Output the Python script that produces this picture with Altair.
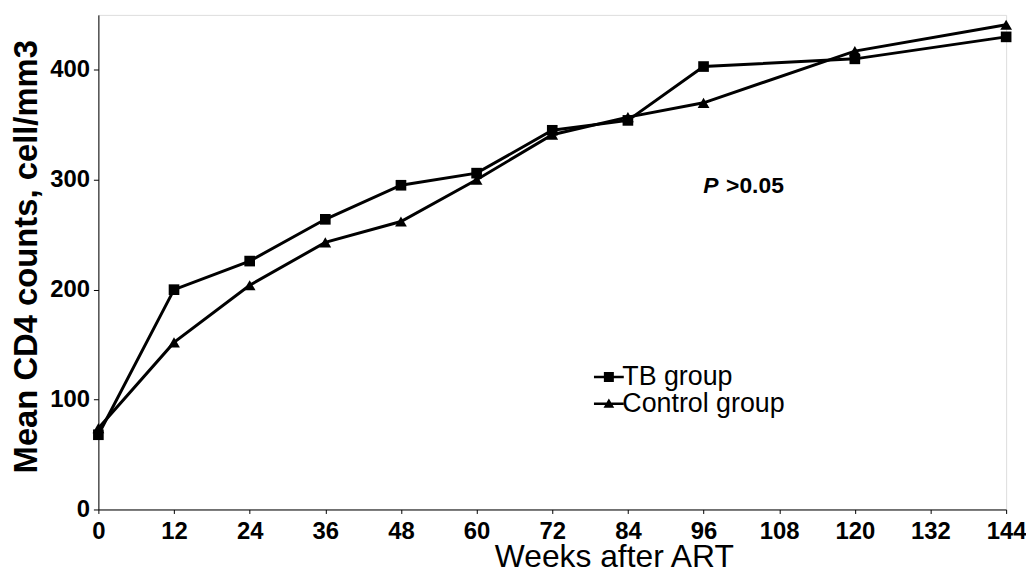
import altair as alt
import pandas as pd

weeks = [0, 12, 24, 36, 48, 60, 72, 84, 96, 120, 144]
tb_values = [68, 200, 226, 264, 295, 306, 345, 354, 403, 410, 430]
control_values = [74, 152, 204, 243, 262, 300, 341, 357, 370, 417, 441]
groups = ["TB group", "Control group"]
x_ticks = [0, 12, 24, 36, 48, 60, 72, 84, 96, 108, 120, 132, 144]
y_ticks = [0, 100, 200, 300, 400]
p_italic = ["P"]
p_rest = [">0.05"]

rows = []
for w, v in zip(weeks, tb_values):
    rows.append({"week": w, "cd4": v, "group": groups[0]})
for w, v in zip(weeks, control_values):
    rows.append({"week": w, "cd4": v, "group": groups[1]})
df = pd.DataFrame(rows)

FONT = "Liberation Sans"

x_enc = alt.X(
    "week:Q",
    scale=alt.Scale(domain=[0, 144], nice=False, zero=True),
    axis=alt.Axis(
        values=x_ticks, title="Weeks after ART", grid=False,
        tickSize=4, labelPadding=6, labelFontSize=24, labelFontWeight="bold",
        labelFont=FONT, titleFont=FONT, titleFontSize=32, titleFontWeight="normal",
        titleX=519, titleY=57, titleAlign="center", titleBaseline="alphabetic",
        domainColor="black", tickColor="black", labelColor="black", titleColor="black",
        labelFlush=False, labelOverlap=False,
    ),
)
y_enc = alt.Y(
    "cd4:Q",
    scale=alt.Scale(domain=[0, 450], nice=False),
    axis=alt.Axis(
        values=y_ticks, title="Mean CD4 counts, cell/mm3", grid=False,
        tickSize=5, labelPadding=4, labelFontSize=24, labelFontWeight="bold",
        labelFont=FONT, titleFont=FONT, titleFontSize=33, titleFontWeight="bold",
        titleX=-62, titleY=243, titleAlign="center", titleBaseline="alphabetic",
        domainColor="black", tickColor="black", labelColor="black", titleColor="black",
        labelFlush=False,
    ),
)

base = alt.Chart(df)

lines = base.mark_line(color="black", strokeWidth=3).encode(
    x=x_enc, y=y_enc, detail="group:N"
)

points = base.mark_point(filled=True, opacity=1, color="black").encode(
    x=x_enc, y=y_enc,
    shape=alt.Shape("group:N", scale=alt.Scale(domain=groups, range=["square", "triangle-up"]), legend=None),
    size=alt.Size("group:N", scale=alt.Scale(domain=groups, range=[115, 140]), legend=None),
)

sq_path = "M-2,-0.17H2V0.17H-2Z M-0.67,-0.67H0.67V0.67H-0.67Z"
tri_path = "M-2,-0.17H2V0.17H-2Z M0,-0.7L0.72,0.55H-0.72Z"

legend_layer = base.transform_calculate(legend="datum.group").transform_filter("false").mark_point(
    filled=True, opacity=1, color="black"
).encode(
    x=x_enc, y=y_enc,
    shape=alt.Shape(
        "legend:N",
        scale=alt.Scale(domain=groups, range=[sq_path, tri_path]),
        legend=alt.Legend(
            orient="none", legendX=500.5, legendY=351, title=None,
            symbolSize=225, labelFontSize=27, labelFont=FONT, labelColor="black",
            labelOffset=0, padding=0, rowPadding=-3, labelLimit=0,
            symbolFillColor="black", symbolStrokeWidth=0, symbolOpacity=1,
        ),
    ),
)

ptext = alt.Chart(pd.DataFrame({"t": p_italic})).mark_text(
    font=FONT, fontSize=23, fontWeight="bold", fontStyle="italic",
    align="left", baseline="alphabetic", color="black",
).encode(text="t:N", x=alt.value(609), y=alt.value(179))

rtext = alt.Chart(pd.DataFrame({"t": p_rest})).mark_text(
    font=FONT, fontSize=23, fontWeight="bold",
    align="left", baseline="alphabetic", color="black",
).encode(text="t:N", x=alt.value(632), y=alt.value(179))

chart = alt.layer(lines, points, legend_layer, ptext, rtext).resolve_scale(
    shape="independent", size="independent"
).properties(
    width=914, height=498,
    padding={"left": 91, "top": 5, "right": 20, "bottom": 59},
    autosize=alt.AutoSizeParams(type="none"),
).configure_view(stroke=None).configure(font=FONT)

chart.save("out.html", embed_options={"renderer": "svg", "actions": False})
